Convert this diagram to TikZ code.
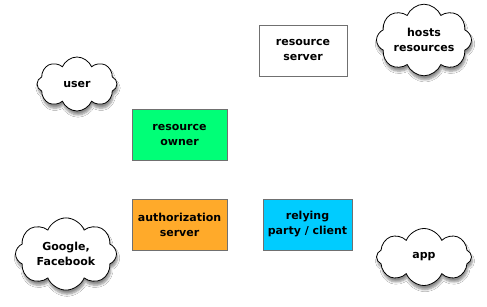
\documentclass[tikz,border=0pt]{standalone}
\usepackage{fontspec}
\setmainfont{DejaVu Sans}
\usetikzlibrary{shapes.symbols,shadows.blur}
\definecolor{ownergreen}{HTML}{00FF77}
\definecolor{authorange}{HTML}{FFAA2A}
\definecolor{clientcyan}{HTML}{00CCFF}
\definecolor{boxedge}{HTML}{707070}
\tikzset{
  labelfont/.style={font=\bfseries\fontsize{11}{15}\selectfont},
  role/.style={draw=boxedge, line width=0.8pt, minimum width=95pt, minimum height=51pt,
    align=center, inner sep=0pt, labelfont},
  puff/.style={cloud, cloud puffs=8, cloud puff arc=135, draw=black, line width=0.8pt,
    fill=white, inner sep=0pt, align=center, labelfont,
    blur shadow={shadow xshift=1pt, shadow yshift=-4pt, shadow blur steps=6, shadow opacity=45}}
}
\begin{document}
\begin{tikzpicture}[x=1pt, y=-1pt]
  \useasboundingbox[fill=white] (0,0) rectangle (487,307);
  % roles
  \node[role, fill=white, minimum width=88pt] (rs) at (303,50.5) {resource\\server};
  \node[role, fill=ownergreen] (ro) at (179.5,134.5) {resource\\owner};
  \node[role, fill=authorange] (as) at (179.5,224.5) {authorization\\server};
  \node[role, fill=clientcyan, minimum width=89pt] (rp) at (307.5,224.5) {relying\\party / client};
  % what each role stands for
  \node[puff, aspect=1.45, minimum width=80pt, minimum height=54pt] (user) at (77,84) {user};
  \node[puff, aspect=1.6, minimum width=95pt, minimum height=57pt] (hosts) at (424,40) {hosts\\resources};
  \node[puff, aspect=1.5, minimum width=101pt, minimum height=65pt] (idp) at (66,254) {Google,\\Facebook};
  \node[puff, aspect=1.6, minimum width=95pt, minimum height=57pt] (app) at (424,257) {app};
\end{tikzpicture}
\end{document}
